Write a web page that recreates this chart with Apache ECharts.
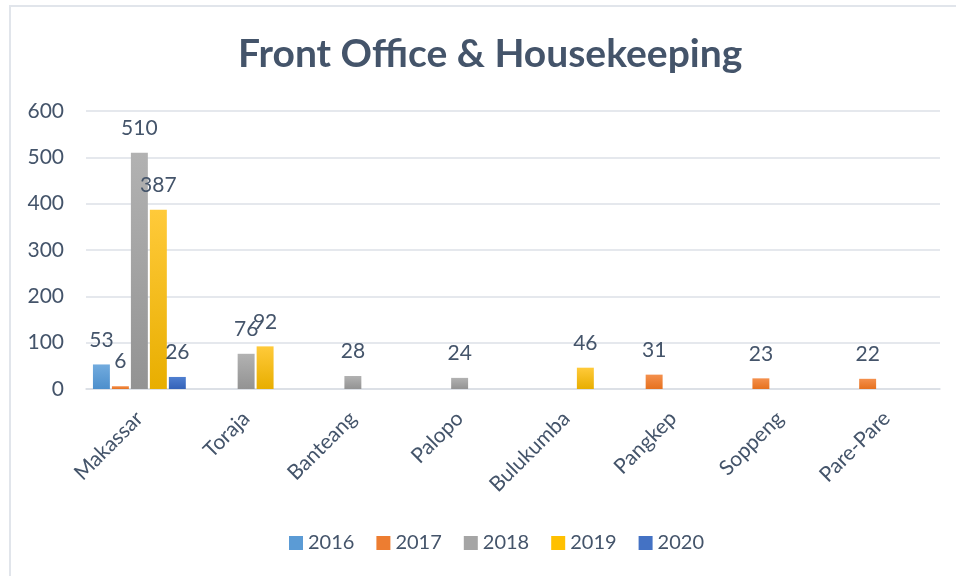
<!DOCTYPE html>
<html><head><meta charset="utf-8">
<script src="https://cdn.jsdelivr.net/npm/echarts@6/dist/echarts.min.js"></script>
<style>html,body{margin:0;padding:0;background:#fff}#c{width:956px;height:576px}</style>
</head><body><div id="c"></div>
<script>
const categories = ['Makassar','Toraja','Banteang','Palopo','Bulukumba','Pangkep','Soppeng','Pare-Pare'];
const years = ['2016','2017','2018','2019','2020'];
const v2016 = [53, null, null, null, null, null, null, null];
const v2017 = [6, null, null, null, null, 31, 23, 22];
const v2018 = [510, 76, 28, 24, null, null, null, null];
const v2019 = [387, 92, null, null, 46, null, null, null];
const v2020 = [26, null, null, null, null, null, null, null];
const yTicks = [0, 100, 200, 300, 400, 500, 600];

const seriesValues = [v2016, v2017, v2018, v2019, v2020];
const gradients = [
  ['#72abde', '#4d8fcc'],
  ['#f4904d', '#e6711f'],
  ['#b2b2b2', '#939393'],
  ['#ffca3a', '#e8ae00'],
  ['#4f7fd0', '#3462b8']
];
const legendColors = ['#5b9bd5', '#ed7d31', '#a5a5a5', '#ffc000', '#4472c4'];
const txt = '#44546a';
const font = 'Lato, "Open Sans", sans-serif';

const chart = echarts.init(document.getElementById('c'));
chart.setOption({
  animation: false,
  textStyle: { fontFamily: font },
  graphic: [{
    type: 'rect', shape: { x: 10, y: 6, width: 1000, height: 1000 },
    style: { fill: 'none', stroke: '#e1e5eb', lineWidth: 2 }, silent: true
  }],
  title: {
    text: 'Front Office & Housekeeping', left: 233, top: 30,
    textStyle: { color: txt, fontSize: 39, fontWeight: 'bold', fontFamily: font }
  },
  legend: {
    bottom: 18, left: 284, itemWidth: 14, itemHeight: 14, itemGap: 22,
    icon: 'rect',
    textStyle: { color: txt, fontSize: 20, fontFamily: font },
    data: years.map((y, i) => ({ name: y, itemStyle: { color: legendColors[i] } }))
  },
  grid: { left: 86, right: 16, top: 111, bottom: 187, containLabel: false },
  xAxis: {
    type: 'category', data: categories,
    axisLine: { lineStyle: { color: '#d9dde3', width: 1.5 } },
    axisTick: { show: false },
    axisLabel: { rotate: 45, color: txt, fontSize: 21, fontFamily: font, margin: 26, interval: 0 }
  },
  yAxis: {
    type: 'value', min: yTicks[0], max: yTicks[yTicks.length - 1], interval: 100,
    axisLine: { show: false }, axisTick: { show: false },
    splitLine: { lineStyle: { color: '#dde1e7', width: 1.5 } },
    axisLabel: { color: txt, fontSize: 21, fontFamily: font, margin: 22 }
  },
  series: seriesValues.map((vals, i) => ({
    name: years[i], type: 'bar', data: vals,
    barGap: '12%', barCategoryGap: '13%',
    itemStyle: {
      color: new echarts.graphic.LinearGradient(0, 0, 0, 1, [
        { offset: 0, color: gradients[i][0] }, { offset: 1, color: gradients[i][1] }
      ])
    },
    label: {
      show: true, position: 'top', distance: 14,
      color: txt, fontSize: 21, fontFamily: font
    }
  }))
});
</script></body></html>
